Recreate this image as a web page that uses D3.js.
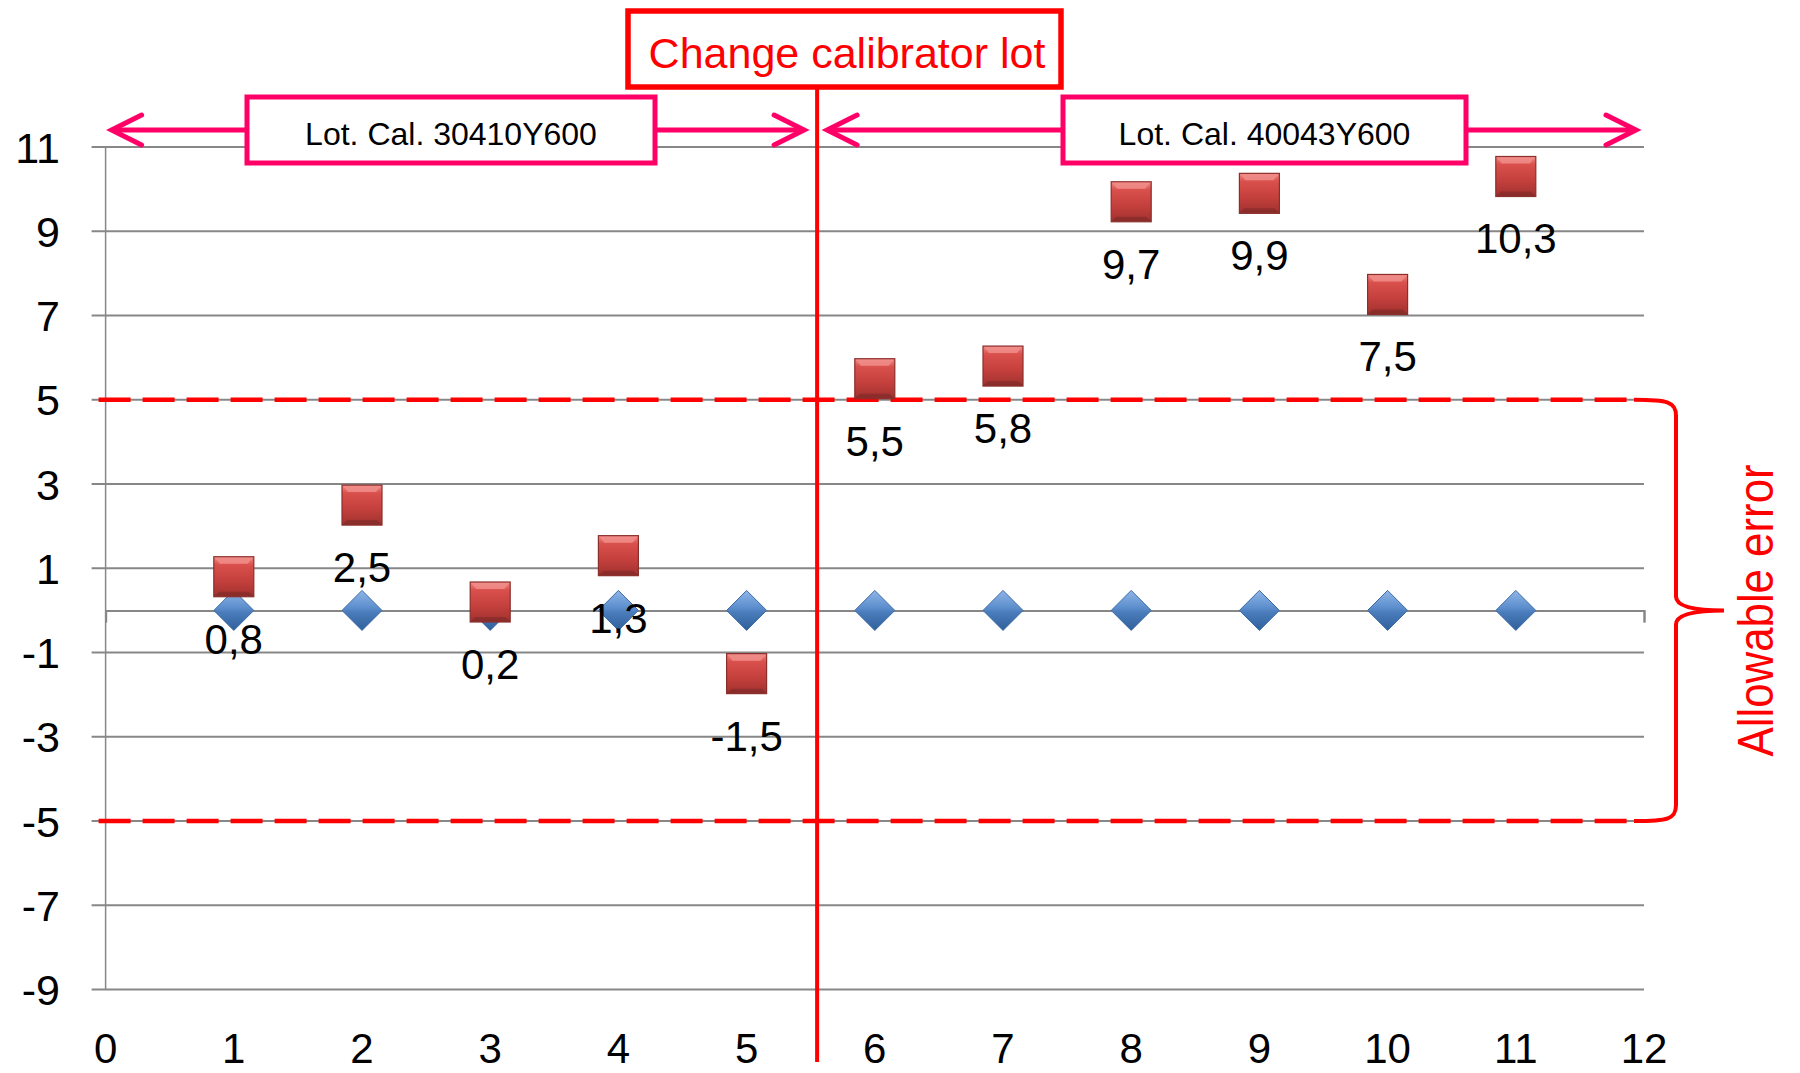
<!DOCTYPE html>
<html>
<head>
<meta charset="utf-8">
<script src="https://cdn.jsdelivr.net/npm/d3@7"></script>
<style>
  html, body { margin: 0; padding: 0; background: #fff; }
  svg { display: block; }
  text { font-family: "Liberation Sans", Arial, sans-serif; }
</style>
</head>
<body>
<svg id="chart" width="1800" height="1073"></svg>
<script>
// Run numbers (x) and the two plotted series
const runs = [1, 2, 3, 4, 5, 6, 7, 8, 9, 10, 11];
const targetValues = [0, 0, 0, 0, 0, 0, 0, 0, 0, 0, 0];
const biasValues = [0.8, 2.5, 0.2, 1.3, -1.5, 5.5, 5.8, 9.7, 9.9, 7.5, 10.3];
const biasLabels = ["0,8", "2,5", "0,2", "1,3", "-1,5", "5,5", "5,8", "9,7", "9,9", "7,5", "10,3"];

// Axis ticks
const xTickValues = [0, 1, 2, 3, 4, 5, 6, 7, 8, 9, 10, 11, 12];
const yTickValues = [11, 9, 7, 5, 3, 1, -1, -3, -5, -7, -9];

// Annotations
const allowableLimits = [5, -5];
const lotChangeAt = 5.55;
const lotNames = ["Lot. Cal. 30410Y600", "Lot. Cal. 40043Y600"];
const changeTitle = "Change calibrator lot";
const braceTitle = "Allowable error";

(function draw() {
const svg = d3.select("#chart");
const x = d3.scaleLinear().domain([0, 12]).range([105.6, 1644]);
const y = d3.scaleLinear().domain([-9, 11]).range([989.6, 147]);

const RED = "#ff0000";
const PINK = "#ff0066";
const GRID = "#878787";

// Gradients for the bevelled markers
const defs = svg.append("defs");
const sq = defs.append("linearGradient").attr("id", "sqGrad")
  .attr("x1", 0).attr("y1", 0).attr("x2", 0).attr("y2", 1);
[[0, "#f28a86"], [0.2, "#d9504c"], [0.6, "#c4403d"], [0.9, "#a93532"], [1, "#8c2f2c"]]
  .forEach(([o, c]) => sq.append("stop").attr("offset", o).attr("stop-color", c));
const dm = defs.append("linearGradient").attr("id", "dmGrad")
  .attr("x1", 0).attr("y1", 0).attr("x2", 0).attr("y2", 1);
[[0, "#8fb6e8"], [0.45, "#5a8ccb"], [0.55, "#4a7cbb"], [1, "#31609b"]]
  .forEach(([o, c]) => dm.append("stop").attr("offset", o).attr("stop-color", c));

// Horizontal gridlines with outside tick stubs
svg.append("g").selectAll("line").data(yTickValues).join("line")
  .attr("x1", x(0) - 14).attr("x2", x(12))
  .attr("y1", d => y(d)).attr("y2", d => y(d))
  .attr("stroke", GRID).attr("stroke-width", 2);

// Vertical value axis
svg.append("line")
  .attr("x1", x(0)).attr("x2", x(0)).attr("y1", y(11)).attr("y2", y(-9))
  .attr("stroke", GRID).attr("stroke-width", 1.5);

// Category axis crossing at zero
const xAxis = d3.axisBottom(x).tickValues(xTickValues).tickSize(12).tickFormat("");
const xAxisG = svg.append("g").attr("transform", `translate(0,${y(0)})`).call(xAxis);
xAxisG.select(".domain").attr("stroke", GRID).attr("stroke-width", 2);
xAxisG.selectAll(".tick line").attr("stroke", GRID).attr("stroke-width", 2);

// Y tick labels
svg.append("g").selectAll("text").data(yTickValues).join("text")
  .attr("x", 60).attr("y", d => y(d) + 15.5)
  .attr("text-anchor", "end").attr("font-size", 43).attr("fill", "#000")
  .text(d => d);

// X tick labels along the bottom
svg.append("g").selectAll("text").data(xTickValues).join("text")
  .attr("x", d => x(d)).attr("y", 1063)
  .attr("text-anchor", "middle").attr("font-size", 42).attr("fill", "#000")
  .text(d => d);

// Allowable error limits (dashed)
const braceX0 = x(12) - 10, braceX1 = braceX0 + 42, braceTip = braceX1 + 48;
svg.append("g").selectAll("line").data(allowableLimits).join("line")
  .attr("x1", x(0) - 7).attr("x2", braceX0)
  .attr("y1", d => y(d)).attr("y2", d => y(d))
  .attr("stroke", RED).attr("stroke-width", 4.5).attr("stroke-dasharray", "32,12");

// Brace spanning the allowable band
const bTop = y(allowableLimits[0]), bBot = y(allowableLimits[1]), bMid = y(0);
const brace = d3.path();
brace.moveTo(braceX0, bTop);
brace.bezierCurveTo(braceX1 - 8, bTop, braceX1, bTop + 2, braceX1, bTop + 16);
brace.lineTo(braceX1, bMid - 14);
brace.quadraticCurveTo(braceX1, bMid, braceTip, bMid);
brace.quadraticCurveTo(braceX1, bMid, braceX1, bMid + 14);
brace.lineTo(braceX1, bBot - 16);
brace.bezierCurveTo(braceX1, bBot - 2, braceX1 - 8, bBot, braceX0, bBot);
svg.append("path").attr("d", brace.toString())
  .attr("fill", "none").attr("stroke", RED).attr("stroke-width", 4);

svg.append("text")
  .attr("transform", `translate(1773,${bMid}) rotate(-90)`)
  .attr("text-anchor", "middle")
  .attr("font-family", "'Open Sans', sans-serif")
  .attr("font-size", 50).attr("fill", RED)
  .attr("textLength", 292).attr("lengthAdjust", "spacingAndGlyphs")
  .text(braceTitle);

// Calibrator lot change line and title box
const lx = x(lotChangeAt);
svg.append("line")
  .attr("x1", lx).attr("x2", lx).attr("y1", 88).attr("y2", 1062)
  .attr("stroke", RED).attr("stroke-width", 4);
svg.append("rect").attr("x", 628).attr("y", 11).attr("width", 433).attr("height", 76)
  .attr("fill", "#fff").attr("stroke", RED).attr("stroke-width", 5.5);
svg.append("text").attr("x", 847).attr("y", 68)
  .attr("text-anchor", "middle").attr("font-size", 43).attr("fill", RED)
  .text(changeTitle);

// Lot span arrows
const arrowY = 130;
function chevron(tipX, dir) {
  const p = d3.path();
  p.moveTo(tipX + dir * 30, arrowY - 15);
  p.lineTo(tipX, arrowY);
  p.lineTo(tipX + dir * 30, arrowY + 15);
  return p.toString();
}
const spans = [[x(0) + 6, lx - 13], [lx + 10, x(12) - 8]];
spans.forEach(([a, b]) => {
  svg.append("line").attr("x1", a + 2).attr("x2", b - 2).attr("y1", arrowY).attr("y2", arrowY)
    .attr("stroke", PINK).attr("stroke-width", 5);
  svg.append("path").attr("d", chevron(a, 1)).attr("fill", "none")
    .attr("stroke", PINK).attr("stroke-width", 5).attr("stroke-linecap", "round");
  svg.append("path").attr("d", chevron(b, -1)).attr("fill", "none")
    .attr("stroke", PINK).attr("stroke-width", 5).attr("stroke-linecap", "round");
});
const lotBoxes = [[247, 408], [1063, 403]];
lotBoxes.forEach(([bx, bw], i) => {
  svg.append("rect").attr("x", bx).attr("y", 97).attr("width", bw).attr("height", 66)
    .attr("fill", "#fff").attr("stroke", PINK).attr("stroke-width", 5);
  svg.append("text").attr("x", bx + bw / 2).attr("y", 145)
    .attr("text-anchor", "middle").attr("font-size", 32).attr("fill", "#000")
    .text(lotNames[i]);
});

// Target series: blue diamonds
const dh = 20;
svg.append("g").selectAll("path").data(runs).join("path")
  .attr("d", (d, i) => {
    const cx = x(d), cy = y(targetValues[i]);
    return `M${cx},${cy - dh}L${cx + dh},${cy}L${cx},${cy + dh}L${cx - dh},${cy}Z`;
  })
  .attr("fill", "url(#dmGrad)").attr("stroke", "#3a6aa5").attr("stroke-width", 1);

// Measured bias series: red squares
const s = 20;
const squares = svg.append("g").selectAll("g").data(runs).join("g")
  .attr("transform", (d, i) => `translate(${x(d)},${y(biasValues[i])})`);
squares.append("rect").attr("x", -s).attr("y", -s).attr("width", 2 * s).attr("height", 2 * s)
  .attr("fill", "url(#sqGrad)").attr("stroke", "#8a2f2c").attr("stroke-width", 1.2);
squares.append("path")
  .attr("d", `M${-s + 1},${-s + 1}L${s - 1},${-s + 1}L${s - 6},${-s + 7}L${-s + 6},${-s + 7}Z`)
  .attr("fill", "#f08d89").attr("opacity", 0.85);
squares.append("path")
  .attr("d", `M${-s + 1},${s - 1}L${s - 1},${s - 1}L${s - 5},${s - 5}L${-s + 5},${s - 5}Z`)
  .attr("fill", "#7f2a28").attr("opacity", 0.6);

// Value labels below each square
svg.append("g").selectAll("text").data(runs).join("text")
  .attr("x", d => x(d)).attr("y", (d, i) => y(biasValues[i]) + 77)
  .attr("text-anchor", "middle").attr("font-size", 42).attr("fill", "#000")
  .text((d, i) => biasLabels[i]);
})();
</script>
</body>
</html>
